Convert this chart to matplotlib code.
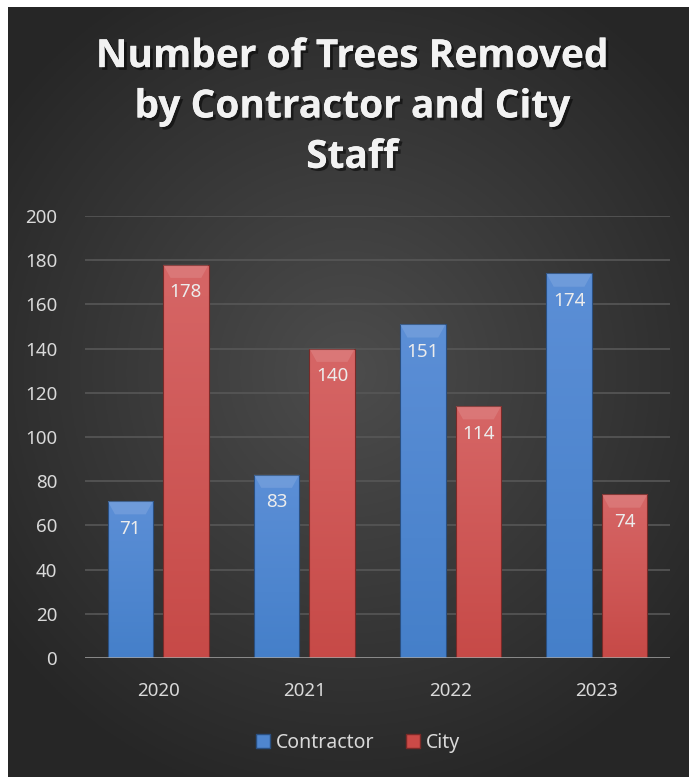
import numpy as np
import matplotlib.pyplot as plt
import matplotlib.patheffects as pe
from matplotlib.patches import Patch

# data
years = ['2020', '2021', '2022', '2023']
contractor = [71, 83, 151, 174]
city = [178, 140, 114, 74]
yticks = [0, 20, 40, 60, 80, 100, 120, 140, 160, 180, 200]

plt.rcParams['font.family'] = ['Noto Sans', 'DejaVu Sans']

W, H = 690, 777
fig = plt.figure(figsize=(W/100, H/100), dpi=100)
fig.patch.set_facecolor('white')

# dark background with radial gradient
bg = fig.add_axes([8/W, 0, (689-8)/W, (H-7)/H])
bg.set_axis_off()
yy, xx = np.mgrid[-1:1:300j, -1:1:300j]
r = np.sqrt((xx*0.9)**2 + ((yy+0.05)*1.0)**2)
g = np.clip(0.30 - 0.13*r, 0.15, 0.30)
bg.imshow(np.dstack([g, g, g]), extent=[0, 1, 0, 1], aspect='auto')
bg.set_xlim(0, 1); bg.set_ylim(0, 1)

ax = fig.add_axes([85/W, 1-658/H, (670-85)/W, (658-216)/H])
ax.set_facecolor('none')
for s in ax.spines.values():
    s.set_visible(False)
ax.set_yticks(yticks)
ax.set_yticklabels([str(t) for t in yticks], color='#d9d9d9', fontsize=13.5)
ax.set_xticks(range(4))
ax.set_xticklabels(years, color='#d9d9d9', fontsize=13.5)
ax.tick_params(length=0)
ax.tick_params(axis='y', pad=20)
ax.tick_params(axis='x', pad=17)
for t in yticks[1:]:
    ax.axhline(t, color='#575757', lw=1.2, zorder=0)
ax.axhline(0, color='#a6a6a6', lw=1.8, zorder=5)

x = np.arange(4)
w = 0.31
off = 0.19

def grad_bars(xs, vals, top, bottom, edge):
    bars = ax.bar(xs, vals, width=w, color='none', edgecolor=edge, lw=0.8, zorder=3)
    cmap = np.linspace(0, 1, 100)[:, None]
    img = np.array(top)[None, None, :]*(1-cmap[..., None]) + np.array(bottom)[None, None, :]*cmap[..., None]
    for b, v in zip(bars, vals):
        x0 = b.get_x()
        im = ax.imshow(img, extent=[x0, x0+w, 0, v], aspect='auto', zorder=2, origin='upper')
        im.set_clip_path(b)
        # bevel on top
        bh = 6
        ax.fill([x0, x0+w, x0+w-0.05, x0+0.05], [v, v, v-bh, v-bh],
                color='white', alpha=0.12, lw=0, zorder=4)
        ax.text(x0+w/2, v-12.5, str(v), ha='center', va='center',
                color='#ececec', fontsize=13.5, zorder=6)
    return bars

grad_bars(x-off, contractor, (0.36, 0.56, 0.84), (0.27, 0.50, 0.79), '#2a4f80')
grad_bars(x+off, city, (0.84, 0.40, 0.40), (0.78, 0.29, 0.28), '#7a2a28')

ax.set_xlim(-0.5, 3.5)
ax.set_ylim(0, 200)

fig.text(352/W, 1-107/H, 'Number of Trees Removed\nby Contractor and City\nStaff',
         ha='center', va='center', color='#f2f2f2', fontsize=28,
         family=['Open Sans', 'DejaVu Sans'], fontweight='bold',
         linespacing=1.38,
         path_effects=[pe.withSimplePatchShadow(offset=(2, -2), shadow_rgbFace='black', alpha=0.5),
                       pe.Normal()])

# legend
handles = [Patch(facecolor='#4f86cf', edgecolor='#2a4f80', label='Contractor'),
           Patch(facecolor='#cc4a47', edgecolor='#7a2a28', label='City')]
leg = fig.legend(handles=handles, loc='center', bbox_to_anchor=(358/W, 1-743/H),
                 ncol=2, frameon=False, fontsize=14, handlelength=0.75, handleheight=0.75,
                 handletextpad=0.3, columnspacing=1.6)
for t in leg.get_texts():
    t.set_color('#d9d9d9')

fig.savefig('out.png', dpi=100, facecolor='white')
